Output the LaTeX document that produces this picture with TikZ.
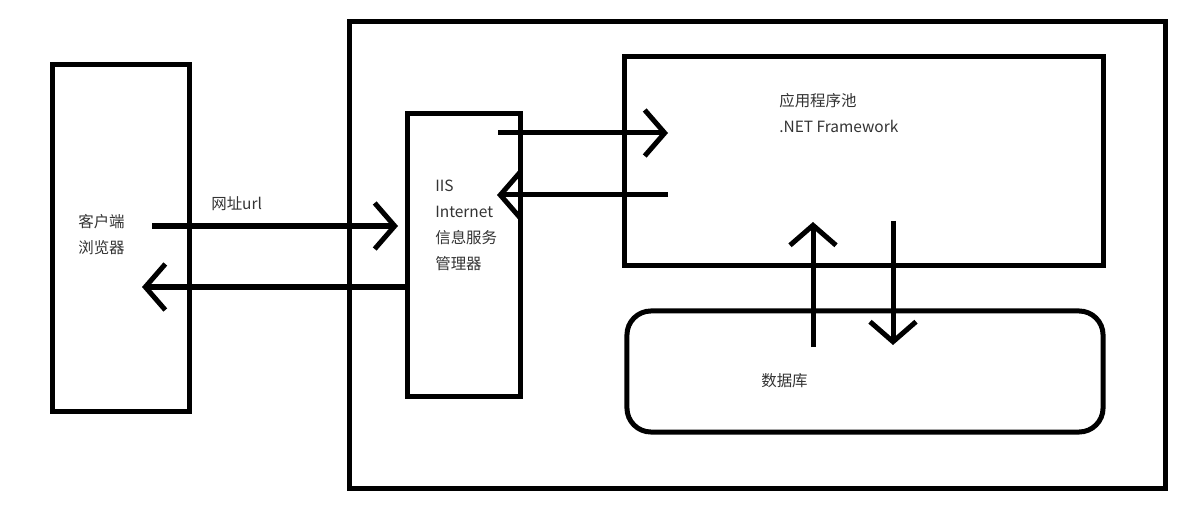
\documentclass[tikz,border=0pt]{standalone}
\usepackage{fontspec}
\setmainfont{Noto Sans CJK SC}
\usetikzlibrary{arrows.meta}
\tikzset{
  box/.style    = {rectangle, draw, line width=0.125cm, inner sep=0},
  dbbox/.style  = {box, rounded corners=0.6cm},
  flow/.style   = {line width=0.125cm, -{Straight Barb[length=0.5cm, width=1.15cm]}},
  et/.style     = {font=\fontsize{11pt}{18.5pt}\selectfont, align=left, inner sep=0, anchor=west, text=black!80}
}

\begin{document}
\begin{tikzpicture}[x=0.025cm, y=-0.025cm]

  \useasboundingbox (0,0) rectangle (1195,524);

  % riquadri
  \node[box, minimum width=20.375cm, minimum height=11.65cm] (server) at (757.5,255) {};
  \node[box, minimum width=3.4cm,   minimum height=8.65cm]  (client) at (121,238)   {};
  \node[box, minimum width=2.8cm,   minimum height=7.05cm]  (iis)    at (464,255)   {};
  \node[box, minimum width=11.95cm, minimum height=5.2cm]   (pool)   at (864,161)   {};
  \node[dbbox, minimum width=11.9cm, minimum height=3.025cm] (db)    at (865,371.5) {};

  % testi
  \node[et] (clienttxt) at (78,234.5) {客户端\\浏览器};
  \node[et] (urltxt)    at (211,204)  {网址url};
  \node[et] (iistxt)    at (435,225)  {IIS\\Internet\\信息服务\\管理器};
  \node[et] (pooltxt)   at (779,113.5) {应用程序池\\.NET Framework};
  \node[et] (dbtxt)     at (761,381)  {数据库};

  % estremi delle frecce
  \coordinate (c1) at (152,226); \coordinate (i1) at (398,226);
  \coordinate (i2) at (405,287); \coordinate (c2) at (142,287);
  \coordinate (i3) at (498,133); \coordinate (p3) at (668,133);
  \coordinate (p4) at (668,195); \coordinate (i4) at (497,195);
  \coordinate (d5) at (813,347); \coordinate (p5) at (813,222);
  \coordinate (p6) at (893,221); \coordinate (d6) at (893,345);

  % frecce
  \draw[flow] (c1) -- (i1);
  \draw[flow] (i2) -- (c2);
  \draw[flow] (i3) -- (p3);
  \draw[flow] (p4) -- (i4);
  \draw[flow] (d5) -- (p5);
  \draw[flow] (p6) -- (d6);

\end{tikzpicture}
\end{document}
